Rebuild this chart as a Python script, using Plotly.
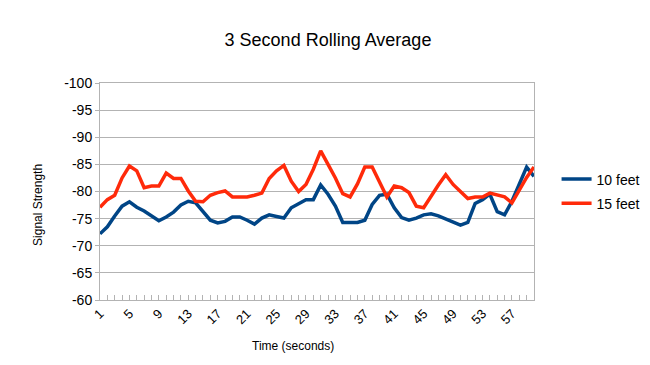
import plotly.graph_objects as go

# ---- data ----
seconds = list(range(1, 61))
feet10 = [-72.2, -73.5, -75.5, -77.3, -78.1, -77.1, -76.4, -75.5, -74.6, -75.3,
          -76.2, -77.5, -78.2, -77.9, -76.4, -74.7, -74.2, -74.5, -75.3, -75.3,
          -74.7, -74.0, -75.1, -75.7, -75.4, -75.1, -77.0, -77.8, -78.5, -78.5,
          -81.2, -79.5, -77.3, -74.3, -74.3, -74.3, -74.7, -77.6, -79.3, -79.5,
          -77.0, -75.2, -74.7, -75.1, -75.7, -75.9, -75.5, -74.9, -74.3, -73.8,
          -74.3, -77.8, -78.5, -79.5, -76.3, -75.7, -78.2, -81.3, -84.5, -82.8]
feet15 = [-77.1, -78.5, -79.3, -82.5, -84.7, -83.8, -80.7, -81.0, -81.0, -83.4,
          -82.4, -82.4, -80.1, -78.2, -78.1, -79.3, -79.8, -80.1, -79.0, -79.0,
          -79.0, -79.3, -79.7, -82.4, -83.8, -84.8, -81.9, -80.0, -81.3, -84.1,
          -87.5, -85.0, -82.5, -79.6, -79.0, -81.4, -84.5, -84.5, -81.6, -79.0,
          -81.0, -80.7, -79.8, -77.3, -77.0, -79.2, -81.2, -83.1, -81.3, -80.0,
          -78.7, -79.0, -79.0, -79.7, -79.3, -79.0, -77.9, -80.3, -82.6, -84.5]
y_ticks = [-100, -95, -90, -85, -80, -75, -70, -65, -60]
x_labels = [str(s) if (s - 1) % 4 == 0 else "" for s in seconds]

FONT = "Liberation Sans, Arial, sans-serif"
GRID = "#b3b3b3"

fig = go.Figure()
fig.add_trace(go.Scatter(x=seconds, y=feet10, mode="lines", name="10 feet",
                         legendgroup="a",
                         line=dict(color="#004586", width=3.5)))
fig.add_trace(go.Scatter(x=seconds, y=feet15, mode="lines", name="15 feet",
                         legendgroup="b",
                         line=dict(color="#ff2a0a", width=3.5)))

fig.update_layout(
    width=650, height=365,
    margin=dict(l=92, r=124, t=75, b=73),
    paper_bgcolor="white", plot_bgcolor="white",
    font=dict(family=FONT, color="black", size=13),
    title=dict(text="3 Second Rolling Average", x=320 / 650, xanchor="center",
               y=1 - 32 / 365, yanchor="middle",
               font=dict(size=18, family=FONT, color="black")),
    showlegend=True,
    legend=dict(x=1.052, y=0.50, xanchor="left", yanchor="middle",
                tracegroupgap=3,
                font=dict(size=14, family=FONT), bgcolor="rgba(0,0,0,0)"),
)
fig.update_xaxes(
    range=[1, 60], tickmode="array", tickvals=seconds, ticktext=x_labels,
    tickangle=-45, ticks="inside", ticklen=5, tickcolor=GRID, tickwidth=1,
    showgrid=False, showline=True, linecolor=GRID, linewidth=1, mirror=True,
    zeroline=False, tickfont=dict(size=13, family=FONT),
)
fig.update_yaxes(
    range=[-60, -100], tickmode="array", tickvals=y_ticks,
    ticktext=[str(v) for v in y_ticks],
    ticks="outside", ticklen=4, tickcolor=GRID, tickwidth=1,
    showgrid=True, gridcolor=GRID, gridwidth=1,
    showline=True, linecolor=GRID, linewidth=1, mirror=True,
    zeroline=False, tickfont=dict(size=14, family=FONT),
)
fig.add_annotation(text="Signal Strength", xref="paper", yref="paper",
                   x=(30 - 92) / 434, y=(292.3 - 197) / 217.6, showarrow=False,
                   textangle=-90, font=dict(size=12, family=FONT),
                   xanchor="center", yanchor="middle")
fig.add_annotation(text="Time (seconds)", xref="paper", yref="paper",
                   x=(285 - 92) / 434, y=(292.3 - 338) / 217.6, showarrow=False,
                   font=dict(size=12, family=FONT),
                   xanchor="center", yanchor="middle")

fig.write_html("out.html")
